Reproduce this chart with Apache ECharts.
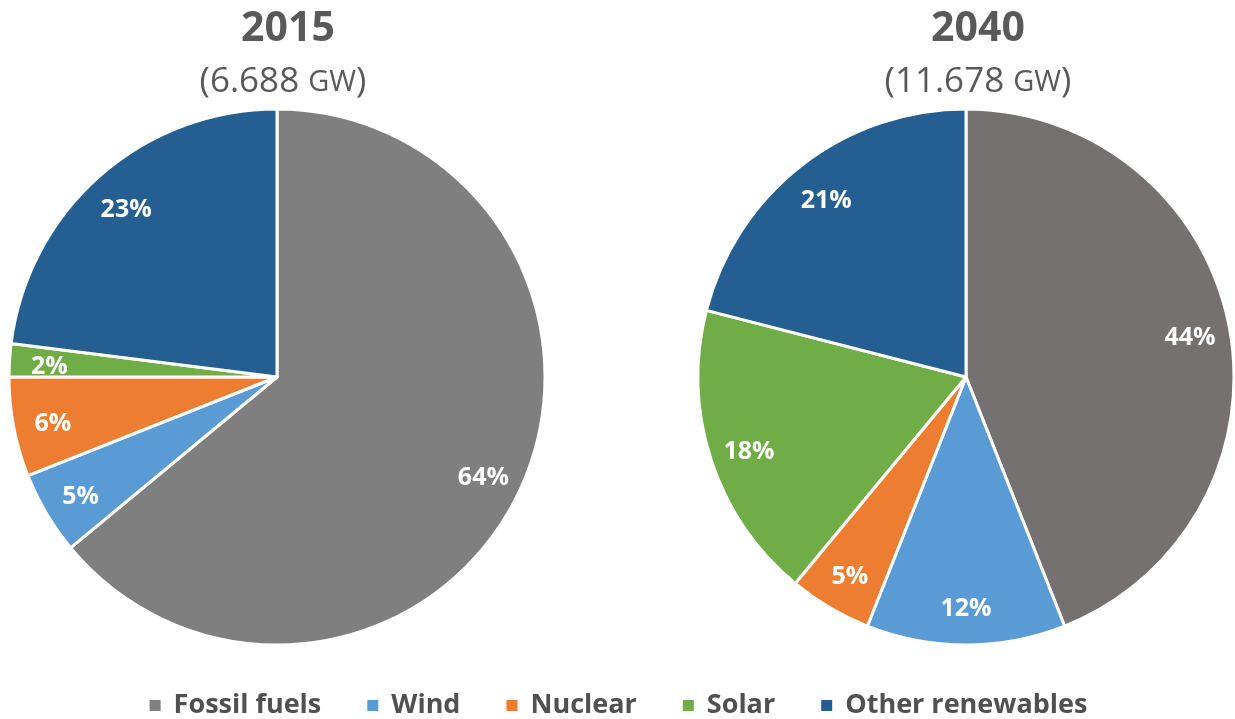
<!DOCTYPE html>
<html><head><meta charset="utf-8">
<script src="https://cdn.jsdelivr.net/npm/echarts@6/dist/echarts.min.js"></script>
<style>html,body{margin:0;padding:0;background:#fff}#c{width:1235px;height:719px}</style>
</head><body><div id="c"></div>
<script>
const categories = ['Fossil fuels', 'Wind', 'Nuclear', 'Solar', 'Other renewables'];
const values2015 = [64, 5, 6, 2, 23];
const values2040 = [44, 12, 5, 18, 21];
const years = ['2015', '2040'];
const totals = ['6.688', '11.678'];

const colors = ['#7f7f7f', '#5b9bd5', '#ed7d31', '#70ad47', '#255e91'];
const fossil2040 = '#767171';
const FONT = '"Open Sans", "DejaVu Sans", sans-serif';
const R = 268;
const centers = [[277, 377], [966, 377]];

function mk(vals, fossilColor) {
  return categories.map((n, i) => ({
    name: n, value: vals[i],
    itemStyle: { color: i === 0 ? fossilColor : colors[i] }
  }));
}
const datasets = [mk(values2015, colors[0]), mk(values2040, fossil2040)];

const series = [];
datasets.forEach((d, k) => {
  series.push({
    type: 'pie', center: centers[k], radius: [0, R], startAngle: 90, clockwise: true,
    data: d, label: { show: false }, labelLine: { show: false },
    itemStyle: { borderColor: '#fff', borderWidth: 3 },
    emphasis: { disabled: true }, animation: false
  });
});
datasets.forEach((d, k) => {
  series.push({
    type: 'pie', center: centers[k], radius: [R * 0.68, R], startAngle: 90, clockwise: true,
    data: d.map(x => ({ name: x.name, value: x.value })),
    silent: true,
    itemStyle: { color: 'rgba(0,0,0,0)', borderWidth: 0 },
    label: { show: true, position: 'inside', formatter: '{c}%', color: '#fff',
      fontFamily: FONT, fontWeight: 'bold', fontSize: 25, offset: [0, 4] },
    labelLine: { show: false },
    emphasis: { disabled: true }, animation: false
  });
});

const titles = [];
const titleX = [283, 973];
const subX = [278, 973];
years.forEach((y, k) => {
  titles.push({ text: y, left: titleX[k], top: 4, textAlign: 'center',
    textStyle: { fontFamily: FONT, fontWeight: 'bold', fontSize: 41, color: '#595959' } });
  titles.push({ text: '(' + totals[k] + ' {s|GW})', left: subX[k], top: 60, textAlign: 'center',
    textStyle: { fontFamily: FONT, fontWeight: 'normal', fontSize: 35, color: '#595959',
      rich: { s: { fontFamily: FONT, fontSize: 29, color: '#595959' } } } });
});

const chart = echarts.init(document.getElementById('c'), null, { renderer: 'canvas' });
chart.setOption({
  animation: false,
  title: titles,
  legend: {
    data: categories.map((n, i) => ({ name: n, itemStyle: { color: colors[i] } })),
    top: 692, left: 'center', icon: 'rect', itemWidth: 13, itemHeight: 13, itemGap: 44,
    padding: 0,
    textStyle: { fontFamily: FONT, fontWeight: 'bold', fontSize: 27, color: '#505050', padding: [0, 0, 0, 7] },
    selectedMode: false
  },
  series: series
});
</script></body></html>
